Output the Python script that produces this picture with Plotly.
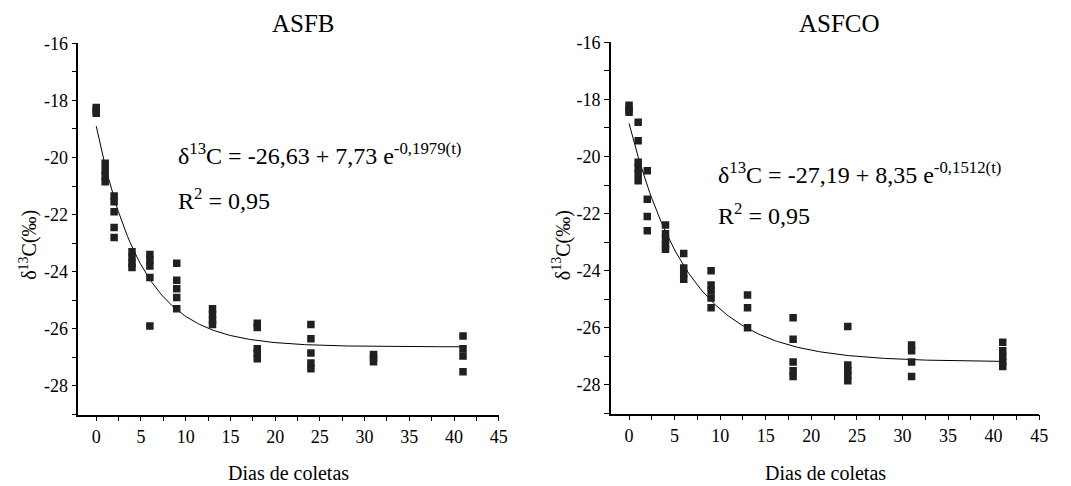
import numpy as np
import plotly.graph_objects as go

# ---------------- data ----------------
days_asfb = [0, 0, 0,
             1, 1, 1, 1,
             2, 2, 2, 2, 2,
             4, 4, 4, 4,
             6, 6, 6, 6, 6,
             9, 9, 9, 9, 9,
             13, 13, 13, 13,
             18, 18, 18, 18, 18,
             24, 24, 24, 24, 24,
             31, 31, 31,
             41, 41, 41, 41]
d13c_asfb = [-18.25, -18.35, -18.45,
             -20.2, -20.45, -20.65, -20.85,
             -21.35, -21.55, -21.9, -22.45, -22.8,
             -23.3, -23.5, -23.7, -23.85,
             -23.4, -23.6, -23.8, -24.2, -25.9,
             -23.7, -24.3, -24.6, -24.9, -25.3,
             -25.3, -25.5, -25.7, -25.85,
             -25.8, -25.95, -26.7, -26.85, -27.05,
             -25.85, -26.35, -26.85, -27.2, -27.4,
             -26.9, -27.0, -27.15,
             -26.25, -26.7, -26.95, -27.5]

days_asfco = [0, 0, 0,
              1, 1, 1, 1, 1, 1,
              2, 2, 2, 2,
              4, 4, 4, 4, 4,
              6, 6, 6, 6,
              9, 9, 9, 9, 9,
              13, 13, 13,
              18, 18, 18, 18, 18,
              24, 24, 24, 24, 24,
              31, 31, 31, 31,
              41, 41, 41, 41, 41]
d13c_asfco = [-18.2, -18.35, -18.45,
              -18.8, -19.45, -20.2, -20.4, -20.6, -20.85,
              -20.5, -21.5, -22.1, -22.6,
              -22.4, -22.7, -22.9, -23.1, -23.25,
              -23.4, -23.9, -24.1, -24.3,
              -24.0, -24.5, -24.7, -24.95, -25.3,
              -24.85, -25.3, -26.0,
              -25.65, -26.4, -27.2, -27.5, -27.7,
              -25.95, -27.3, -27.5, -27.65, -27.85,
              -26.6, -26.8, -27.2, -27.7,
              -26.5, -26.8, -27.0, -27.2, -27.35]

# fitted model parameters (from the printed equations)
fit_asfb = (-26.63, 7.73, -0.1979)
fit_asfco = (-27.19, 8.35, -0.1512)

titles = ["ASFB", "ASFCO"]
eq_texts = ["δ<sup>13</sup>C = -26,63 + 7,73 e<sup>-0,1979(t)</sup>",
            "δ<sup>13</sup>C = -27,19 + 8,35 e<sup>-0,1512(t)</sup>"]
r2_text = "R<sup>2</sup> = 0,95"
x_label = "Dias de coletas"
y_label = "δ<sup>13</sup>C(‰)"

# labelled ticks and unlabelled intermediate ticks
x_ticks = [0, 5, 10, 15, 20, 25, 30, 35, 40, 45]
x_minor = [2.5, 7.5, 12.5, 17.5, 22.5, 27.5, 32.5, 37.5, 42.5]
y_ticks = [-16, -18, -20, -22, -24, -26, -28]
y_minor = [-17, -19, -21, -23, -25, -27, -29]

# ---------------- figure ----------------
W, H = 1071, 486
FONT = "Liberation Serif"
MK = "#231f20"

fig = go.Figure()

t_line = np.linspace(0, 41, 200)
for i, (dx, dy, fit) in enumerate([(days_asfb, d13c_asfb, fit_asfb),
                                   (days_asfco, d13c_asfco, fit_asfco)]):
    xa = "x" if i == 0 else "x2"
    ya = "y" if i == 0 else "y2"
    a, b, k = fit
    fig.add_trace(go.Scatter(x=t_line, y=a + b * np.exp(k * t_line), mode="lines",
                             line=dict(color="black", width=1),
                             xaxis=xa, yaxis=ya, showlegend=False, hoverinfo="skip"))
    fig.add_trace(go.Scatter(x=dx, y=dy, mode="markers",
                             marker=dict(symbol="square", size=7.5, color=MK),
                             xaxis=xa, yaxis=ya, showlegend=False))

def xdom(a, b):
    return [a / W, b / W]

fig.update_layout(
    width=W, height=H,
    margin=dict(l=0, r=0, t=0, b=0),
    paper_bgcolor="white", plot_bgcolor="white",
    xaxis=dict(domain=xdom(79, 503), anchor="y"),
    yaxis=dict(domain=[1 - 413 / H, 1 - 34 / H], anchor="x"),
    xaxis2=dict(domain=xdom(616, 1048), anchor="y2"),
    yaxis2=dict(domain=[1 - 412 / H, 1 - 33 / H], anchor="x2"),
    font=dict(family=FONT, color="black", size=18),
    hovermode=False,
)

tick_font = dict(family=FONT, size=18, color="black")
xv = sorted(x_ticks + x_minor)
yv = sorted(y_ticks + y_minor)
fig.update_xaxes(showline=True, linecolor="black", linewidth=1.5,
                 ticks="outside", ticklen=5, tickwidth=1.2, tickcolor="black",
                 showgrid=False, zeroline=False, tickfont=tick_font,
                 range=[-2, 45], tickmode="array", tickvals=xv,
                 ticktext=[str(v) if v in x_ticks else "" for v in xv])
fig.update_yaxes(showline=True, linecolor="black", linewidth=1.5,
                 ticks="outside", ticklen=5, tickwidth=1.2, tickcolor="black",
                 showgrid=False, zeroline=False, tickfont=tick_font,
                 range=[-29, -16], tickmode="array", tickvals=yv,
                 ticktext=[str(v) if v in y_ticks else "" for v in yv])

ann = []
for txt, xc in [(titles[0], 306), (titles[1], 847)]:
    ann.append(dict(text=txt, x=xc / W, y=1 - 14 / H, xref="paper", yref="paper",
                    showarrow=False, font=dict(family=FONT, size=25),
                    xanchor="center", yanchor="middle"))
for xc in [291, 832]:
    ann.append(dict(text=x_label, x=xc / W, y=1 - 473 / H, xref="paper", yref="paper",
                    showarrow=False, font=dict(family=FONT, size=20),
                    xanchor="center", yanchor="middle"))
for xc in [28, 566]:
    ann.append(dict(text=y_label, x=xc / W, y=1 - 240 / H, xref="paper", yref="paper",
                    textangle=-90, showarrow=False, font=dict(family=FONT, size=20),
                    xanchor="center", yanchor="middle"))
ann.append(dict(text=eq_texts[0], x=177 / W, y=1 - 147 / H, xref="paper", yref="paper",
                showarrow=False, font=dict(family=FONT, size=24), xanchor="left", yanchor="middle"))
ann.append(dict(text=r2_text, x=177 / W, y=1 - 193 / H, xref="paper", yref="paper",
                showarrow=False, font=dict(family=FONT, size=24), xanchor="left", yanchor="middle"))
ann.append(dict(text=eq_texts[1], x=722 / W, y=1 - 166 / H, xref="paper", yref="paper",
                showarrow=False, font=dict(family=FONT, size=24), xanchor="left", yanchor="middle"))
ann.append(dict(text=r2_text, x=722 / W, y=1 - 208 / H, xref="paper", yref="paper",
                showarrow=False, font=dict(family=FONT, size=24), xanchor="left", yanchor="middle"))
fig.update_layout(annotations=ann)

fig.write_html("out.html", config={"displayModeBar": False},
               post_script="document.body.style.margin='0';document.body.style.overflow='hidden';")
